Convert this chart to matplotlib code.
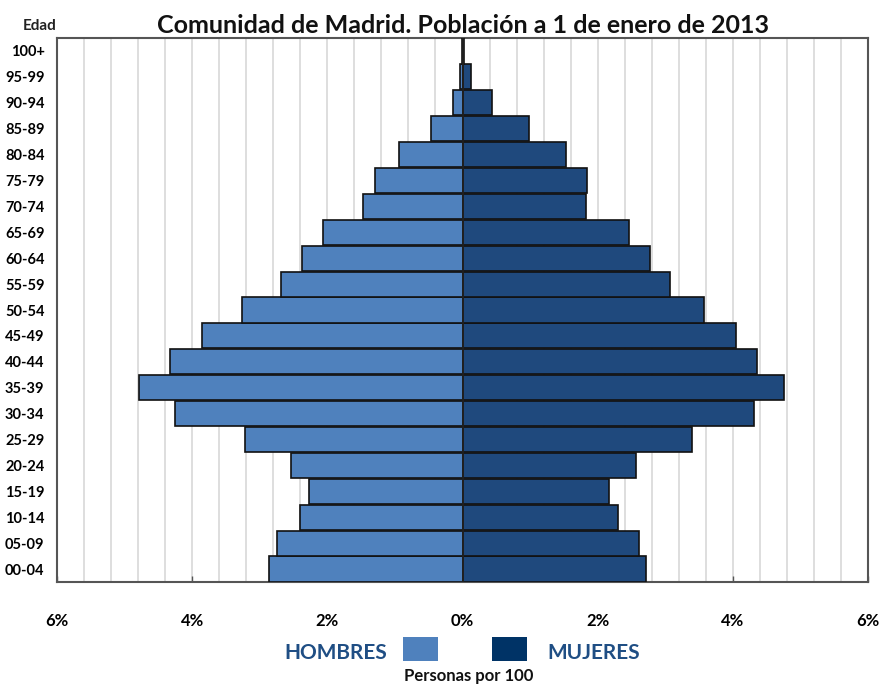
import matplotlib
matplotlib.use("Agg")
import matplotlib.pyplot as plt
from matplotlib.patches import Rectangle
import numpy as np

plt.rcParams['font.family'] = ['Lato', 'DejaVu Sans']

ages = ["00-04", "05-09", "10-14", "15-19", "20-24", "25-29", "30-34", "35-39",
        "40-44", "45-49", "50-54", "55-59", "60-64", "65-69", "70-74", "75-79",
        "80-84", "85-89", "90-94", "95-99", "100+"]
hombres = [2.86, 2.74, 2.41, 2.27, 2.54, 3.22, 4.25, 4.78, 4.33, 3.86, 3.27,
           2.68, 2.37, 2.06, 1.47, 1.30, 0.94, 0.47, 0.14, 0.03, 0.005]
mujeres = [2.71, 2.61, 2.30, 2.17, 2.57, 3.39, 4.32, 4.75, 4.36, 4.04, 3.57,
           3.07, 2.77, 2.47, 1.83, 1.84, 1.53, 0.99, 0.44, 0.13, 0.02]
xticks = [-6, -4, -2, 0, 2, 4, 6]
xticklabels = ["6%", "4%", "2%", "0%", "2%", "4%", "6%"]

c_h = "#4F81BD"
c_m = "#1F497D"
c_txt = "#1F4E84"

W, H = 881, 686
fig = plt.figure(figsize=(W / 100, H / 100), dpi=100)
ax = fig.add_axes([57 / W, 1 - 582 / H, (868 - 57) / W, (582 - 38) / H])

y = np.arange(len(ages))
ax.barh(y, [-v for v in hombres], height=0.97, color=c_h, edgecolor="#111111",
        linewidth=1.2, zorder=3)
ax.barh(y, mujeres, height=0.97, color=c_m, edgecolor="#111111",
        linewidth=1.2, zorder=3)
ax.axvline(0, color="#222222", linewidth=1.2, zorder=4)

ax.set_xlim(-6, 6)
ax.set_ylim(-0.5, len(ages) - 0.5)
for gx in np.arange(-6, 6.01, 0.4):
    ax.axvline(gx, color="#d4d4d4", linewidth=1.1, zorder=1)

ax.set_xticks(xticks)
ax.set_xticklabels(xticklabels, fontsize=12, fontweight="bold")
ax.tick_params(axis="x", direction="in", length=4, width=1, color="#555555", pad=22)
ax.set_yticks(y)
ax.set_yticklabels(ages, fontsize=10.5, fontweight="bold")
ax.tick_params(axis="y", length=0, pad=9)
for s in ax.spines.values():
    s.set_color("#555555")
    s.set_linewidth(1.5)

fig.text(463 / W, 1 - 33 / H, "Comunidad de Madrid. Población a 1 de enero de 2013",
         ha="center", va="baseline", fontsize=18, fontweight="bold", color="#111111")
fig.text(40 / W, 1 - 30 / H, "Edad", ha="center", va="baseline", fontsize=11,
         fontweight="bold", color="#222222")

fig.text(387 / W, 1 - 659 / H, "HOMBRES", ha="right", va="baseline", fontsize=15,
         fontweight="bold", color=c_txt)
fig.text(547 / W, 1 - 659 / H, "MUJERES", ha="left", va="baseline", fontsize=15,
         fontweight="bold", color=c_txt)
fig.patches.append(Rectangle((403 / W, 1 - 661 / H), 35 / W, 24 / H,
                             transform=fig.transFigure, facecolor=c_h, edgecolor="none"))
fig.patches.append(Rectangle((492 / W, 1 - 661 / H), 35 / W, 24 / H,
                             transform=fig.transFigure, facecolor="#003366", edgecolor="none"))
fig.text(469 / W, 1 - 681 / H, "Personas por 100", ha="center", va="baseline",
         fontsize=12, fontweight="bold", color="#111111")

fig.savefig("out.png", dpi=100)
